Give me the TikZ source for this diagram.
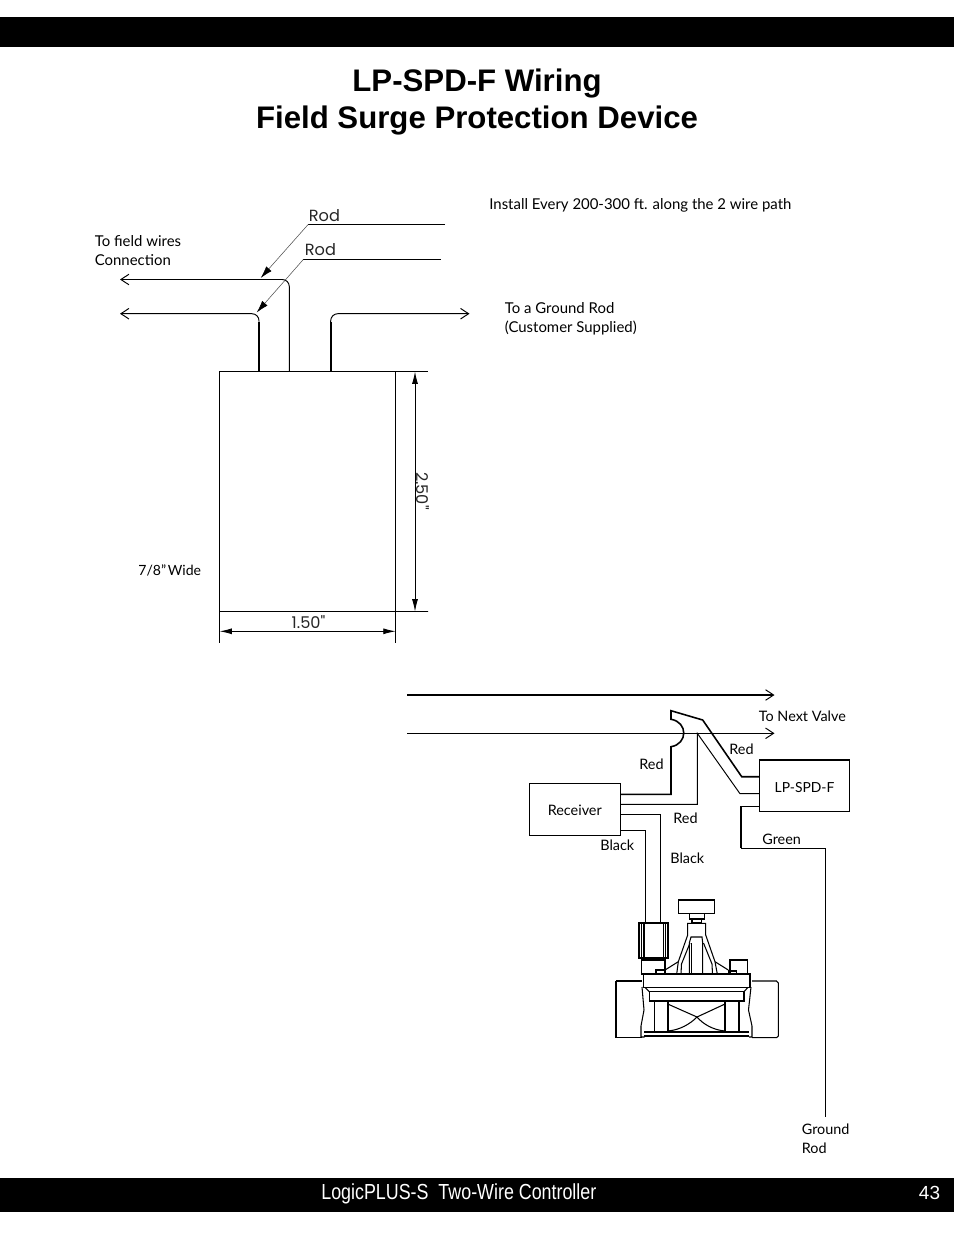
\documentclass[tikz,border=0pt]{standalone}
\usepackage{fontspec}
\setmainfont{Lato}
\newfontfamily\titlefont{Liberation Sans}
\newfontfamily\footfont[FakeStretch=0.82]{Liberation Sans}
\newfontfamily\dimfont{Poppins}
\usetikzlibrary{arrows.meta}
\tikzset{
	label/.style={inner sep=0pt,anchor=west,align=left,font=\fontsize{8.2}{10.8}\selectfont},
	biglabel/.style={label,font=\fontsize{8.5}{10.8}\selectfont},
	dimtext/.style={inner sep=0pt,font=\dimfont\fontsize{9.2}{11}\selectfont,text=black!85},
	boxnode/.style={draw,line width=0.55pt,inner sep=0pt,outer sep=0pt,anchor=north west},
	wire/.style={line width=0.55pt,line join=miter},
	thickwire/.style={line width=1pt},
	leader/.style={line width=0.3pt,black!70},
	dimline/.style={line width=0.5pt,{Latex[length=7pt,width=3.4pt]}-{Latex[length=7pt,width=3.4pt]}},
	openarrow/.style={-{Straight Barb[length=4.6pt,width=6pt,line width=0.55pt]}},
	valve/.style={line width=0.6pt},
	valvethick/.style={line width=1pt},
}
\begin{document}
\begin{tikzpicture}[x=0.02cm,y=-0.02cm]
	\useasboundingbox (0,0) rectangle (954,1235);
	% bars and title
	\fill[black] (0,17) rectangle (954,47);
	\fill[black] (0,1178) rectangle (954,1212);
	\node[inner sep=0pt,align=center,font=\titlefont\bfseries\fontsize{17.75}{21.1}\selectfont] (title) at (477,102) {LP-SPD-F Wiring\\Field Surge Protection Device};
	\node[inner sep=0pt,anchor=west,text=white,font=\footfont\fontsize{12.4}{14}\selectfont] (footer) at (321,1194) {LogicPLUS-S\ \ Two-Wire Controller};
	\node[inner sep=0pt,text=white,font=\titlefont\fontsize{10.8}{12}\selectfont] (page) at (929.5,1193) {43};
	% upper drawing
	\node[boxnode,minimum width=3.52cm,minimum height=4.8cm] (spd) at (219.6,371.5) {};
	\coordinate (w1) at (289.3,371.5);
	\coordinate (w2) at (259,371.5);
	\coordinate (w3) at (330.7,371.5);
	\coordinate (w1end) at (120,279.5);
	\coordinate (w2end) at (120,313.7);
	\coordinate (w3end) at (469.5,313.7);
	\draw[wire,openarrow,rounded corners=4] (w1) -- (289.3,279.5) -- (w1end);
	\draw[wire,openarrow,rounded corners=4] (w2) -- (259,313.7) -- (w2end);
	\draw[wire,openarrow,rounded corners=4] (w3) -- (330.7,313.7) -- (w3end);
	\draw[thickwire] (w2) -- (259,322);
	\draw[thickwire] (w3) -- (330.7,322);
	\node[dimtext,anchor=west] (rodA) at (308.5,215.5) {Rod};
	\node[dimtext,anchor=west] (rodB) at (304.5,249.5) {Rod};
	\coordinate (rodAend) at (445,224.3);
	\coordinate (rodBend) at (440.7,259.5);
	\coordinate (rodAtip) at (260.7,278);
	\coordinate (rodBtip) at (256.7,312.5);
	\draw[line width=0.5pt] (rodAend) -- (308.3,224.3);
	\draw[line width=0.5pt] (rodBend) -- (303.3,259.5);
	\draw[leader,-{Latex[length=7pt,width=4pt,black]}] (308.3,224.3) -- (rodAtip);
	\draw[leader,-{Latex[length=7pt,width=4pt,black]}] (303.3,259.5) -- (rodBtip);
	% dimensions
	\coordinate (extA) at (428,371.5);
	\coordinate (extB) at (428,611.5);
	\draw[line width=0.5pt] (spd.north east) -- (extA);
	\draw[line width=0.5pt] (spd.south east) -- (extB);
	\draw[dimline] (415,371.5) -- (415,611.5);
	\draw[line width=0.5pt] (spd.south west) -- ++(0,32);
	\draw[line width=0.5pt] (spd.south east) -- ++(0,32);
	\draw[dimline] (219.6,631.3) -- (395.6,631.3);
	\node[dimtext,rotate=-90] (high) at (423,491) {2.50"};
	\node[dimtext] (wide) at (308.5,622.5) {1.50"};
	\node[label,font=\fontsize{8}{10.8}\selectfont] (widetxt) at (138,570) {7/8”\hspace{1pt}Wide};
	\node[biglabel] (fieldtxt) at (94.5,250.5) {To field wires\\Connection};
	\node[biglabel] (installtxt) at (489,205) {Install Every 200-300 ft. along the 2 wire path};
	\node[biglabel] (groundtxt) at (504.5,318.5) {To a Ground Rod\\(Customer Supplied)};
	% lower drawing
	\coordinate (busA) at (407,695);
	\coordinate (busAend) at (774.5,695);
	\coordinate (busB) at (407,733.3);
	\coordinate (busBend) at (774.5,733.3);
	\draw[line width=1pt,-{Straight Barb[length=4.6pt,width=6pt,line width=0.55pt]}] (busA) -- (busAend);
	\draw[wire,openarrow] (busB) -- (busBend);
	\node[boxnode,minimum width=1.82cm,minimum height=1.04cm,text height=7.2pt,text depth=0pt,font=\fontsize{8.2}{10}\selectfont] (receiver) at (529.3,783.5) {Receiver};
	\node[boxnode,minimum width=1.81cm,minimum height=1.03cm,text height=8pt,text depth=0pt,font=\fontsize{7.9}{10}\selectfont] (lpspd) at (759.3,760) {LP-SPD-F};
	\draw[line width=1.1pt] (lpspd.north west) -- (lpspd.north east);
	\coordinate (rxA) at (620,794.3);
	\coordinate (rxB) at (620,804.3);
	\coordinate (rxC) at (620,814.3);
	\coordinate (rxD) at (620,830);
	\coordinate (spdA) at (759.3,776.7);
	\coordinate (spdB) at (759.3,793.7);
	\coordinate (spdC) at (759.3,806.3);
	\coordinate (rodG) at (825.5,1117);
	\coordinate (solA) at (660.7,923);
	\coordinate (solB) at (645.7,923);
	\draw[wire,line width=0.9pt] (rxA) -- (671,794.3) -- (671,746.7) .. controls (688,744) and (688,722) .. (671,719.3) -- (671,710.7) -- (702.7,720) -- (741.7,776.7) -- (spdA);
	\draw[wire] (rxB) -- (697.3,804.3) -- (697.3,733.3) -- (740,793.7) -- (spdB);
	\draw[wire] (rxC) -- (660.7,814.3) -- (solA);
	\draw[wire] (rxD) -- (645.7,830) -- (solB);
	\draw[wire] (spdC) -- (741,806.3) -- (741,848) -- (825.5,848) -- (rodG);
	\draw[line width=1pt] (741,806.3) -- (741,848);
	\node[label] (nexttxt) at (758.5,716) {To Next Valve};
	\node[label] (redA) at (729,749) {Red};
	\node[label] (redB) at (639,764) {Red};
	\node[label] (redC) at (673,818) {Red};
	\node[label] (blackA) at (600,845) {Black};
	\node[label] (blackB) at (670,858) {Black};
	\node[label] (greentxt) at (762,839) {Green};
	\node[label] (rodtxt) at (801.5,1138.5) {Ground\\Rod};
	% valve
	\draw[valve] (678.3,900) rectangle (714.3,913.3);
	\draw[valve] (689.3,913.3) rectangle (704.3,919);
	\draw[valve] (692,919) rectangle (701.7,922.3);
	\draw[valve] (676.7,974) -- (678.3,961.7) -- (687.7,935) -- (687.7,923.3) -- (705.7,923.3) -- (705.7,935) -- (715,961.7) -- (717.3,974);
	\draw[valve] (681,974) -- (681.5,964) -- (690,943);
	\draw[valve] (712.5,974) -- (712,964) -- (703.5,943);
	\draw[valve] (689.3,974) -- (689.3,943) -- (691,937) -- (702,937) -- (702.7,943) -- (702.7,974);
	\draw[valve] (691.5,974) -- (691.5,943);
	\draw[valve] (665,970) -- (678.3,961.7);
	\draw[valve] (715,961.7) -- (728.3,970);
	\draw[valve] (656,970) rectangle (665,974);
	\draw[valve] (728.3,971) rectangle (736.7,974);
	\draw[valvethick] (638.8,923.3) rectangle (668,958.3);
	\draw[valve] (641.7,923.3) -- (641.7,958.3);
	\draw[valve] (644,923.3) -- (644,958.3);
	\draw[valve] (663.3,923.3) -- (663.3,958.3);
	\draw[valve] (665.7,923.3) -- (665.7,958.3);
	\draw[valve] (641.7,960) rectangle (665,974);
	\draw[valve] (730,960) rectangle (747.7,974);
	\draw[valve] (643.3,974) rectangle (750,987.3);
	\draw[valve] (649.3,991.7) rectangle (744,1001);
	\draw[valve] (645,987.3) -- (649.3,991.7);
	\draw[valve] (748,987.3) -- (744,991.7);
	\draw[valve] (616,981) -- (642,981);
	\draw[valve] (616,981) -- (616,1037.7) -- (642,1037.7);
	\draw[valve] (752,981) -- (776.5,981) -- (778.3,983) -- (778.3,1036) -- (776.5,1037.7) -- (752,1037.7);
	\draw[valve] (642,987) -- (644,1010) -- (641,1026) -- (641,1037) -- (644.5,1037);
	\draw[valve] (751,987) -- (748.5,1010) -- (752,1026) -- (752,1037) -- (749,1037);
	\draw[valvethick] (644.3,1031.7) -- (749,1031.7);
	\draw[valvethick] (644.3,1036) -- (749,1036);
	\draw[valve] (654.3,1001) -- (654.3,1031.7);
	\draw[valvethick] (667.7,1001) -- (667.7,1031.7);
	\draw[valvethick] (725,1001) -- (725,1031.7);
	\draw[valve] (739,1001) -- (739,1031.7);
	\draw[valve] (667.7,1004) -- (697,1017) .. controls (703,1024) and (713,1030) .. (725,1031);
	\draw[valve] (725,1004) -- (697,1017) .. controls (690,1024) and (680,1030) .. (667.7,1031);
\end{tikzpicture}
\end{document}
